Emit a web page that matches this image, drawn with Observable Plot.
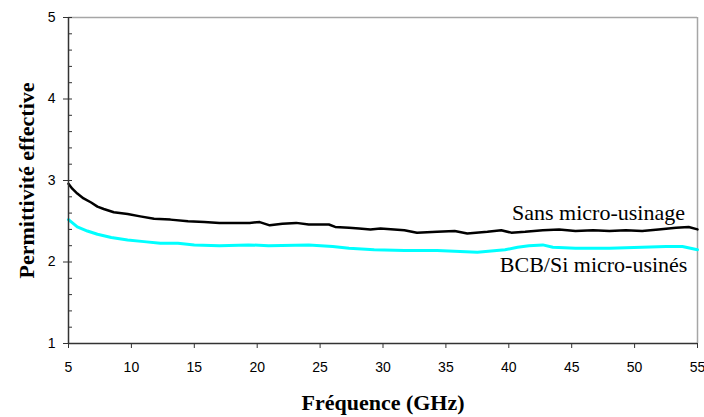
<!DOCTYPE html>
<html>
<head>
<meta charset="utf-8">
<script src="https://cdn.jsdelivr.net/npm/d3@7"></script>
<script src="https://cdn.jsdelivr.net/npm/@observablehq/plot@0.6"></script>
<style>
  html, body { margin: 0; padding: 0; background: #fff; }
  #chart svg { display: block; }
</style>
</head>
<body>
<div id="chart"></div>
<script>
// Black series: "Sans micro-usinage"
const freqSans = [5, 5.3, 5.7, 6.2, 6.8, 7.3, 7.8, 8.6, 9.7, 10.7, 11.8, 13.1, 14.5, 15.8, 17.0, 18.0, 19.4, 20.2, 21.0, 22.0, 23.1, 24.1, 25.7, 26.2, 27.3, 28.1, 29.0, 29.8, 31.7, 32.7, 34.3, 35.7, 36.7, 38.3, 39.4, 40.2, 41.3, 42.7, 44.0, 45.3, 46.7, 48.0, 49.3, 50.6, 51.9, 53.3, 54.3, 55];
const epsSans  = [2.96, 2.90, 2.84, 2.78, 2.73, 2.68, 2.65, 2.61, 2.59, 2.56, 2.53, 2.52, 2.50, 2.49, 2.48, 2.48, 2.48, 2.49, 2.45, 2.47, 2.48, 2.46, 2.46, 2.43, 2.42, 2.41, 2.40, 2.41, 2.39, 2.36, 2.37, 2.38, 2.35, 2.37, 2.39, 2.36, 2.37, 2.39, 2.40, 2.38, 2.39, 2.38, 2.39, 2.38, 2.40, 2.42, 2.43, 2.40];

// Cyan series: "BCB/Si micro-usinés"
const freqBCB = [5, 5.7, 6.5, 7.3, 8.4, 9.7, 11.0, 12.3, 13.7, 15.0, 17.0, 19.3, 20.9, 24.1, 26.0, 27.3, 29.3, 31.7, 34.3, 37.5, 39.7, 40.7, 41.6, 42.7, 43.5, 45.3, 48.0, 50.6, 52.5, 53.8, 55];
const epsBCB  = [2.52, 2.43, 2.38, 2.34, 2.30, 2.27, 2.25, 2.23, 2.23, 2.21, 2.20, 2.21, 2.20, 2.21, 2.19, 2.17, 2.15, 2.14, 2.14, 2.12, 2.15, 2.18, 2.20, 2.21, 2.18, 2.17, 2.17, 2.18, 2.19, 2.19, 2.15];

const xTicks = [5, 10, 15, 20, 25, 30, 35, 40, 45, 50, 55];
const yTicks = [1, 2, 3, 4, 5];
const yMinorTicks = [1.2, 1.4, 1.6, 1.8, 2.2, 2.4, 2.6, 2.8, 3.2, 3.4, 3.6, 3.8, 4.2, 4.4, 4.6, 4.8];

const seriesNames = ["Sans micro-usinage", "BCB/Si micro-usinés"];
// label anchors in data units (frequency, permittivity)
const labelFreq = [54.0, 54.2];
const labelEps = [2.51, 1.875];

const xTitle = "Fréquence (GHz)";
const yTitle = "Permittivité effective";

const sans = freqSans.map((f, i) => ({f, eps: epsSans[i]}));
const bcb = freqBCB.map((f, i) => ({f, eps: epsBCB[i]}));
const labels = seriesNames.map((name, i) => ({name, f: labelFreq[i], eps: labelEps[i]}));

const serif = "'Liberation Serif', 'Times New Roman', serif";
const sans_ = "'Liberation Sans', Arial, sans-serif";

const chart = Plot.plot({
  width: 704,
  height: 417,
  marginLeft: 68,
  marginRight: 7,
  marginTop: 17,
  marginBottom: 74,
  style: {background: "#fff", fontFamily: sans_, fontSize: "14px", color: "#000", overflow: "visible"},
  x: {domain: [5, 55]},
  y: {domain: [1, 5]},
  marks: [
    Plot.ruleY([5], {stroke: "#a6a6a6", strokeWidth: 1.5}),
    Plot.ruleX([55], {stroke: "#a6a6a6", strokeWidth: 1.5}),
    Plot.line(bcb, {x: "f", y: "eps", stroke: "#00ffff", strokeWidth: 3}),
    Plot.line(sans, {x: "f", y: "eps", stroke: "#000", strokeWidth: 2.5}),
    Plot.axisX({ticks: xTicks, tickSize: 5, tickPadding: 14, tickFormat: d => String(d), label: null, fontSize: 14, fontFamily: sans_, stroke: "#333"}),
    Plot.axisY({ticks: yTicks, tickSize: 5, tickPadding: 8, tickFormat: d => String(d), label: null, fontSize: 14, fontFamily: sans_, stroke: "#333"}),
    Plot.axisY({ticks: yTicks, tickSize: -4, tickFormat: () => "", label: null, stroke: "#333"}),
    Plot.axisY({ticks: yMinorTicks, tickSize: -4, tickFormat: () => "", label: null, stroke: "#333"}),
    Plot.ruleX([5], {stroke: "#333", strokeWidth: 1.5}),
    Plot.ruleY([1], {stroke: "#333", strokeWidth: 1.5}),
    Plot.text(labels, {x: "f", y: "eps", text: "name", textAnchor: "end", lineAnchor: "bottom", fontFamily: serif, fontSize: 22, fill: "#000"}),
    Plot.text([xTitle], {frameAnchor: "bottom", dy: 66, textAnchor: "middle", lineAnchor: "bottom", fontFamily: serif, fontWeight: "bold", fontSize: 22, fill: "#000"}),
    Plot.text([yTitle], {frameAnchor: "left", rotate: -90, dx: -35, textAnchor: "middle", lineAnchor: "bottom", fontFamily: serif, fontWeight: "bold", fontSize: 22, fill: "#000"})
  ]
});
document.getElementById("chart").appendChild(chart);
</script>
</body>
</html>
